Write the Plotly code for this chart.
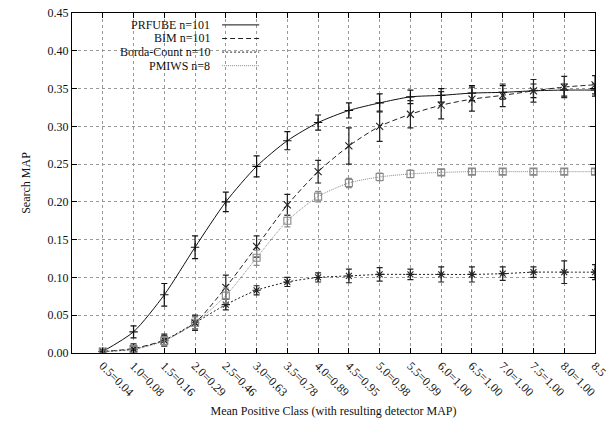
import plotly.graph_objects as go

x_vals = [0.5, 1.0, 1.5, 2.0, 2.5, 3.0, 3.5, 4.0, 4.5, 5.0, 5.5, 6.0, 6.5, 7.0, 7.5, 8.0, 8.5]
x_ticktext = ["0.5=0.04", "1.0=0.08", "1.5=0.16", "2.0=0.29", "2.5=0.46", "3.0=0.63",
              "3.5=0.78", "4.0=0.89", "4.5=0.95", "5.0=0.98", "5.5=0.99", "6.0=1.00",
              "6.5=1.00", "7.0=1.00", "7.5=1.00", "8.0=1.00", "8.5"]
y_tickvals = [0.0, 0.05, 0.10, 0.15, 0.20, 0.25, 0.30, 0.35, 0.40, 0.45]

names = ["PRFUBE n=101", "BIM n=101", "Borda-Count n=10", "PMIWS n=8"]

prfube = [0.002, 0.028, 0.077, 0.140, 0.200, 0.247, 0.281, 0.305, 0.321, 0.331, 0.339,
          0.341, 0.344, 0.345, 0.347, 0.348, 0.348]
prfube_err = [0.002, 0.008, 0.015, 0.015, 0.013, 0.014, 0.012, 0.010, 0.010, 0.012, 0.009,
              0.009, 0.010, 0.009, 0.009, 0.008, 0.008]
bim = [0.002, 0.006, 0.017, 0.040, 0.087, 0.141, 0.196, 0.240, 0.274, 0.300, 0.316,
       0.328, 0.336, 0.341, 0.347, 0.352, 0.355]
bim_err = [0.002, 0.006, 0.008, 0.010, 0.016, 0.014, 0.014, 0.015, 0.024, 0.020, 0.018,
           0.018, 0.016, 0.015, 0.015, 0.014, 0.012]
borda = [0.002, 0.005, 0.017, 0.040, 0.064, 0.083, 0.094, 0.100, 0.102, 0.104, 0.104,
         0.104, 0.104, 0.105, 0.107, 0.107, 0.107]
borda_err = [0.002, 0.004, 0.006, 0.008, 0.007, 0.006, 0.006, 0.006, 0.009, 0.009, 0.007,
             0.010, 0.010, 0.009, 0.007, 0.015, 0.010]
pmiws = [0.002, 0.005, 0.016, 0.040, 0.076, 0.126, 0.175, 0.207, 0.225, 0.233, 0.237,
         0.239, 0.240, 0.240, 0.240, 0.240, 0.240]
pmiws_err = [0.002, 0.004, 0.006, 0.008, 0.010, 0.010, 0.008, 0.007, 0.006, 0.005, 0.005,
             0.004, 0.004, 0.004, 0.004, 0.004, 0.004]

series = [prfube, bim, borda, pmiws]
errors = [prfube_err, bim_err, borda_err, pmiws_err]
colors = ["#111111", "#222222", "#222222", "#888888"]
dashes = ["solid", "5px,3px", "2px,2px", "1px,1px"]
symbols = ["cross-thin-open", "x-thin-open", "asterisk-open", "square-open"]
msizes = [6, 7, 7, 7]

fig = go.Figure()
for name, ys, err, c, d, s, ms in zip(names, series, errors, colors, dashes, symbols, msizes):
    fig.add_trace(go.Scatter(
        x=x_vals, y=ys, name=name, mode="lines+markers",
        line=dict(color=c, width=1.0, dash=d, shape="spline", smoothing=0.7),
        marker=dict(symbol=s, size=ms, color=c, line=dict(color=c, width=1.1)),
        error_y=dict(type="data", array=err, visible=True, color=c, thickness=1.2, width=3),
        showlegend=False,
    ))

font_family = "Liberation Serif, Times New Roman, serif"

# gnuplot-style key: text right-aligned, sample line to its right
leg_y = [0.965, 0.925, 0.885, 0.845]
shapes = []
annotations = []
for name, c, d, ly in zip(names, colors, dashes, leg_y):
    annotations.append(dict(x=0.266, y=ly, xref="paper", yref="paper", text=name,
                            showarrow=False, xanchor="right", yanchor="middle",
                            borderpad=0,
                            font=dict(family=font_family, size=12, color="#111")))
    shapes.append(dict(type="line", xref="paper", yref="paper", x0=0.287, x1=0.358,
                       y0=ly, y1=ly, line=dict(color=c, width=1.0, dash=d)))

fig.update_layout(
    width=613, height=428,
    margin=dict(l=72, r=18, t=13, b=75, autoexpand=False),
    paper_bgcolor="white", plot_bgcolor="white",
    font=dict(family=font_family, size=12, color="#111"),
    shapes=shapes, annotations=annotations,
)
fig.update_xaxes(
    range=[0, 8.5], tickvals=x_vals, ticktext=x_ticktext, tickangle=45,
    showgrid=True, gridcolor="#999999", griddash="dot", gridwidth=1,
    showline=True, linecolor="black", linewidth=1.2, mirror="ticks",
    ticks="inside", ticklen=5, tickcolor="black",
    zeroline=False, automargin=False, ticklabeloverflow="allow",
    title=dict(text="Mean Positive Class (with resulting detector MAP)", standoff=8,
               font=dict(size=12)),
    tickfont=dict(size=12),
)
fig.update_yaxes(
    range=[0, 0.45], tickvals=y_tickvals, tickformat=".2f",
    showgrid=True, gridcolor="#999999", griddash="dot", gridwidth=1,
    showline=True, linecolor="black", linewidth=1.2, mirror="ticks",
    ticks="inside", ticklen=5, tickcolor="black",
    zeroline=False, automargin=False, ticklabeloverflow="allow",
    title=dict(text="Search MAP", standoff=14, font=dict(size=12)),
    tickfont=dict(size=12),
)

# remove the browser's default 8px body margin so the figure sits at the page origin
fig.write_html("out.html", config={"displayModeBar": False},
               post_script="document.body.style.margin='0';")
